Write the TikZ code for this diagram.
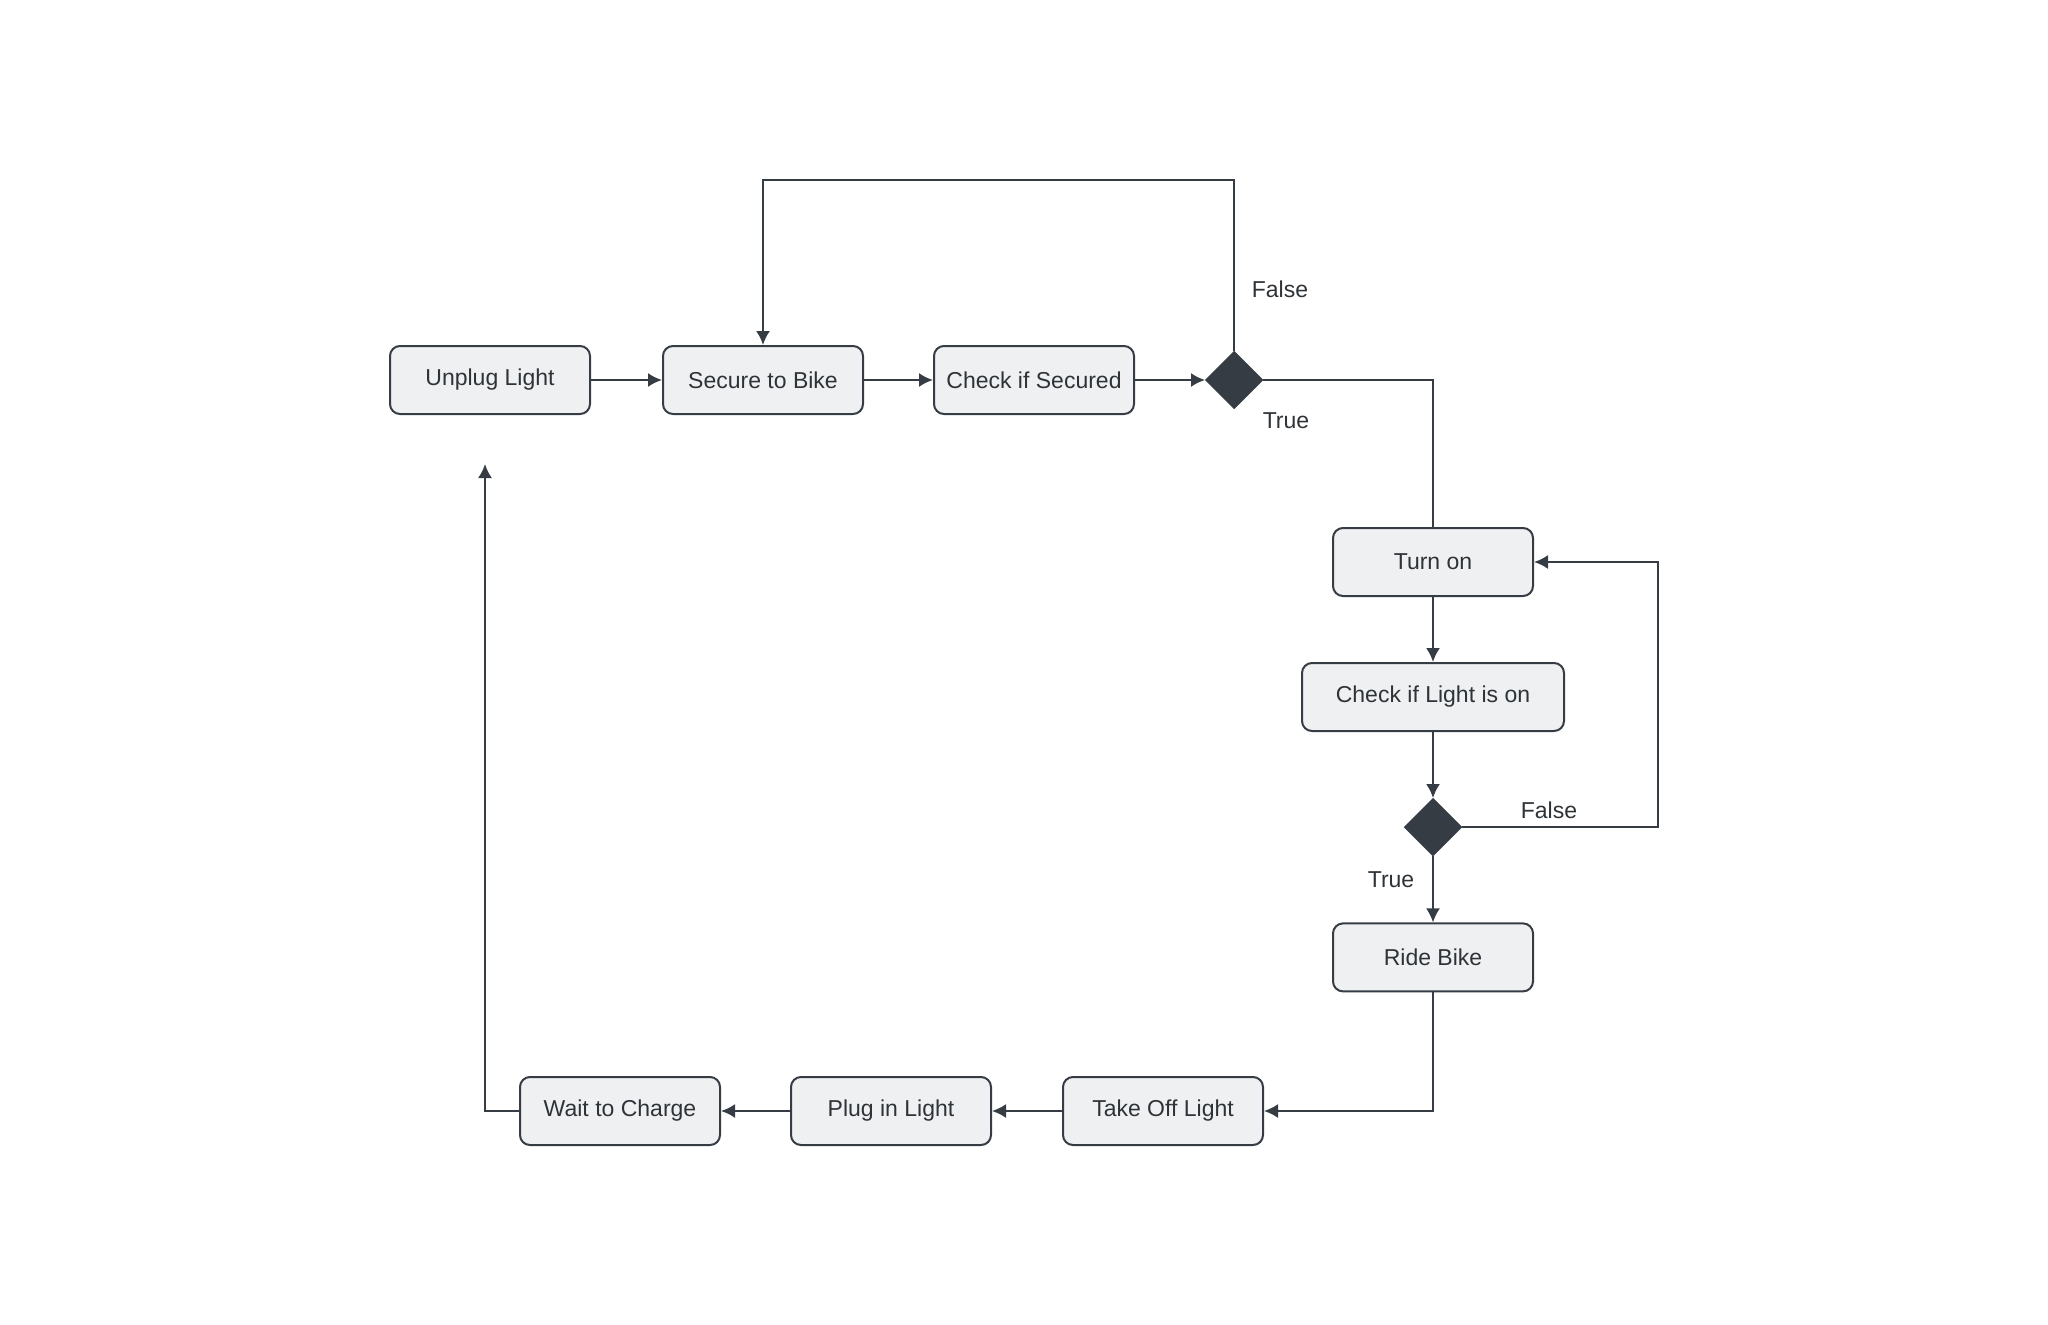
\documentclass[tikz,border=0pt]{standalone}
\usepackage{fontspec}
\setmainfont{Liberation Sans}
\usepackage{tikz}
\usetikzlibrary{arrows.meta,positioning,calc,shapes.geometric}
\definecolor{boxfill}{HTML}{EFF0F2}
\definecolor{ink}{HTML}{363C43}
\definecolor{txt}{HTML}{2E3338}
\tikzset{
  state/.style    = {draw=ink, line width=2pt, fill=boxfill, rounded corners=10pt,
                     minimum width=200pt, minimum height=68pt, align=center,
                     text=txt, font=\fontsize{23}{27}\selectfont},
  decision/.style = {diamond, fill=ink, draw=ink, inner sep=0pt,
                     minimum width=58pt, minimum height=58pt},
  flow/.style     = {-{Latex[length=14pt,width=14pt]}, line width=2pt, draw=ink},
  link/.style     = {line width=2pt, draw=ink},
  lbl/.style      = {text=txt, font=\fontsize{23}{27}\selectfont},
}

\begin{document}
\begin{tikzpicture}[x=1pt, y=-1pt]
\useasboundingbox (0,0) rectangle (2048,1325);
% ---- top row ----
\node[state] (unplug) at (490,380) {Unplug Light};
\node[state, right=71pt of unplug] (secure) {Secure to Bike};
\node[state, right=69pt of secure] (checksec) {Check if Secured};
\node[decision, right=70pt of checksec] (dec1) {};
\coordinate (topy) at (0,180);

% ---- right column ----
\node[state] (turnon) at (1433,562) {Turn on};
\node[state, minimum width=262pt, below=65pt of turnon] (checklight) {Check if Light is on};
\node[decision, below=66pt of checklight] (dec2) {};
\node[state, below=66pt of dec2] (ride) {Ride Bike};
\coordinate (loopx) at (1658,0);

% ---- bottom row ----
\node[state] (takeoff) at (1163,1111) {Take Off Light};
\node[state, left=70pt of takeoff] (plugin) {Plug in Light};
\node[state, left=69pt of plugin] (wait) {Wait to Charge};
\coordinate (backend) at (485,464);

% ---- labels ----
\node[lbl] (false1) at (1280,289) {False};
\node[lbl] (true1) at (1286,421) {True};
\node[lbl] (false2) at (1549,810) {False};
\node[lbl] (true2) at (1391,880) {True};

% ---- connectors ----
\draw[flow] (unplug) -- (secure);
\draw[flow] (secure) -- (checksec);
\draw[flow] (checksec) -- (dec1);
\draw[flow] (dec1.north) |- (secure.north |- topy) -- (secure.north);
\draw[link] (dec1.east) -| (turnon.north);
\draw[flow] (turnon) -- (checklight);
\draw[flow] (checklight) -- (dec2);
\draw[flow] (dec2) -- (ride);
\draw[flow] (dec2.east) -| (loopx |- turnon.east) -- (turnon.east);
\draw[flow] (ride.south) |- (takeoff.east);
\draw[flow] (takeoff) -- (plugin);
\draw[flow] (plugin) -- (wait);
\draw[flow] (wait.west) -| (backend);
\end{tikzpicture}
\end{document}
